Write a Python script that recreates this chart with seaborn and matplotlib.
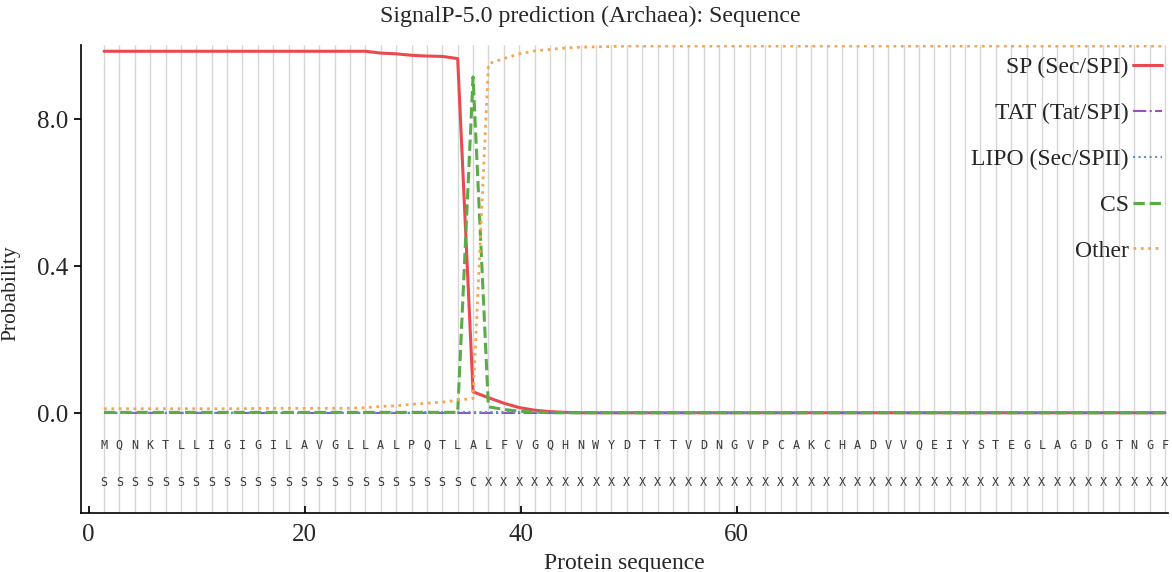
import matplotlib
matplotlib.use('Agg')
import matplotlib.pyplot as plt
import numpy as np
import pandas as pd
import seaborn as sns

sns.set_theme(style='white')
plt.rcParams['font.family'] = ['Liberation Serif', 'DejaVu Serif']

# sequence and per-residue annotation
sequence = list('MQNKTLLIGIGILAVGLLALPQTLALFVGQHNWYDTTTVDNGVPCAKCHADVVQEIYSTEGLAGDGTNGF')
annotation = list('S' * 24 + 'C' + 'X' * 45)
positions = np.arange(1, len(sequence) + 1)

# probabilities
sp = [0.985] * 18 + [0.980, 0.978, 0.974, 0.972, 0.971, 0.965, 0.058, 0.042,
                     0.027, 0.015, 0.008, 0.004, 0.002] + [0.001] * 39
tat = [0.0] * 70
lipo = [0.001] * 21 + [0.003] * 9 + [0.001] * 40
cs = [0.002] * 24 + [0.915, 0.017, 0.01, 0.005, 0.003] + [0.001] * 41
other = ([0.012] * 10 + [0.013] * 7 + [0.015, 0.018, 0.020, 0.024, 0.027, 0.030,
          0.035, 0.040, 0.951, 0.965, 0.978, 0.986, 0.990, 0.994, 0.996, 0.997, 0.998]
         + [0.999] * 36)

# x tick labels as printed (axis is scaled to the residue positions)
tick_labels = [0, 20, 40, 60]
tick_scale = 14.05 / 20

series = {
    'SP (Sec/SPI)': (sp, '#e84a50', '-', 2.2),
    'TAT (Tat/SPI)': (tat, '#9b4fc0', '-.', 1.5),
    'LIPO (Sec/SPII)': (lipo, '#5b8fd6', ':', 1.5),
    'CS': (cs, '#5aac46', '--', 2.2),
    'Other': (other, '#f6a650', ':', 2.0),
}

fig = plt.figure(figsize=(11.72, 5.72), dpi=100)
ax = fig.add_axes([0.0691, 0.1031, 0.9275, 0.8182])

for p in positions:
    ax.axvline(p, color='#d6d6d6', lw=1.0, zorder=0)

for label, (vals, color, ls, lw) in series.items():
    df = pd.DataFrame({'pos': positions, 'prob': vals})
    sns.lineplot(data=df, x='pos', y='prob', ax=ax, color=color, linestyle=ls,
                 lw=lw, label=label, zorder=3)

for p, aa, an in zip(positions, sequence, annotation):
    ax.text(p, -0.087, aa, ha='center', va='center', fontsize=8.5,
            family='DejaVu Sans Mono', color='#3a3a3a')
    ax.text(p, -0.188, an, ha='center', va='center', fontsize=8.5,
            family='DejaVu Sans Mono', color='#3a3a3a')

ax.set_xlim(-0.5, 70.2)
ax.set_ylim(-0.272, 1.002)
ax.set_xticks([t * tick_scale for t in tick_labels])
ax.set_xticklabels([str(t) for t in tick_labels])
ax.set_yticks([0.0, 0.4, 0.8])
ax.set_yticklabels(['0.0', '0.4', '8.0'])
ax.tick_params(axis='x', direction='in', length=5, labelsize=18, pad=8, color='black')
ax.tick_params(axis='y', direction='out', length=5, labelsize=18, pad=4, color='black', left=True)
ax.tick_params(axis='x', bottom=True)

for side in ['top', 'right']:
    ax.spines[side].set_visible(False)
for side in ['left', 'bottom']:
    ax.spines[side].set_color('black')
    ax.spines[side].set_linewidth(1.2)

ax.set_xlabel('Protein sequence', fontsize=17, labelpad=5)
ax.set_ylabel('Probability', fontsize=15.5)
ax.yaxis.set_label_coords(-0.056, 0.47)
fig.text(0.504, 0.972, 'SignalP-5.0 prediction (Archaea): Sequence', fontsize=17.2,
         ha='center', va='center')

leg = ax.legend(loc='upper right', frameon=False, markerfirst=False, fontsize=17,
                handlelength=1.2, handletextpad=0.2, labelspacing=1.03,
                bbox_to_anchor=(1.003, 0.995), borderaxespad=0)

fig.savefig('out.png', dpi=100)
